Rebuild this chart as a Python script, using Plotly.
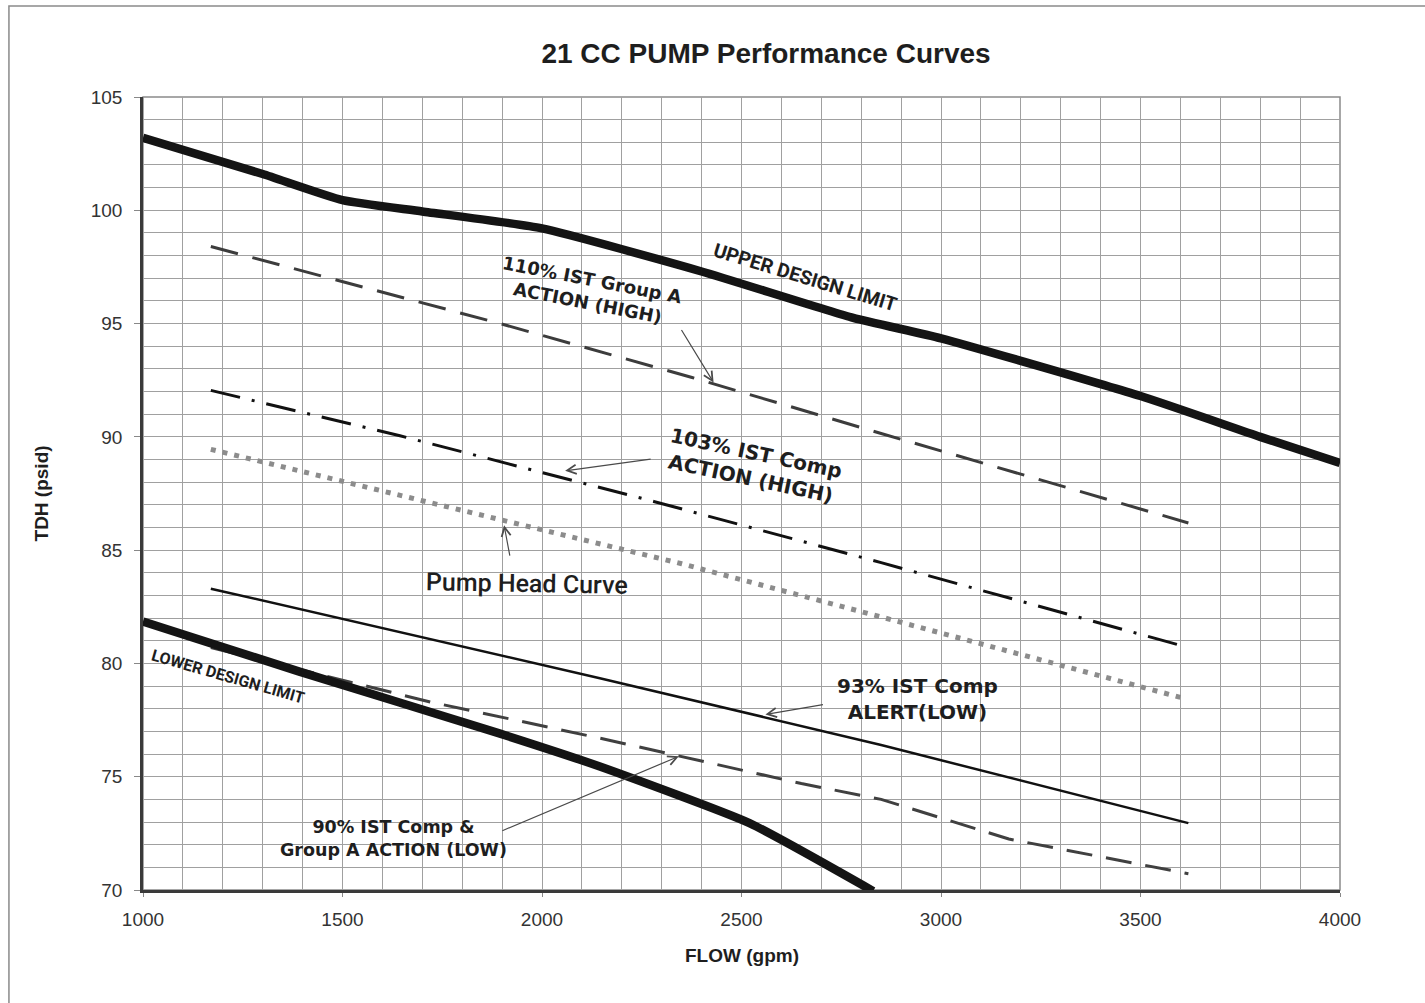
import plotly.graph_objects as go

# ---------------------------------------------------------------------------
# Curve data: flow (gpm) -> TDH (psid)
# ---------------------------------------------------------------------------

upper_flow = [1000, 1300, 1500, 1700, 2000, 2400, 2780, 3000, 3500, 3800, 4000]
upper_tdh = [103.2, 101.6, 100.45, 99.95, 99.2, 97.3, 95.25, 94.35, 91.8, 90.0, 88.85]

lower_flow = [1000, 1390, 1895, 2145, 2520, 2830]
lower_tdh = [81.85, 79.65, 76.9, 75.45, 72.95, 69.95]

high110_flow = [1170, 1895, 2376, 2850, 3620]
high110_tdh = [98.4, 95.0, 92.62, 90.15, 86.2]

high103_flow = [1170, 1644, 2280, 2850, 3620]
high103_tdh = [92.05, 90.05, 87.15, 84.45, 80.7]

pump_flow = [1170, 1610, 1915, 2350, 2850, 3300, 3600]
pump_tdh = [89.45, 87.55, 86.25, 84.4, 82.05, 79.93, 78.5]

alert93_flow = [1170, 2145, 2850, 3620]
alert93_tdh = [83.3, 79.35, 76.4, 72.95]

low90_flow = [1170, 1720, 2145, 2650, 2850, 3170, 3620]
low90_tdh = [80.7, 78.3, 76.7, 74.7, 74.0, 72.25, 70.72]

x_ticks = [1000, 1500, 2000, 2500, 3000, 3500, 4000]
y_ticks = [70, 75, 80, 85, 90, 95, 100, 105]

TITLE = "21 CC PUMP Performance Curves"

LABEL_FONT = "DejaVu Sans"
NARROW_FONT = "Roboto"
INK = "#1e1e1e"
ARROW = "#4a4a4a"


def line_trace(x, y, color, width, dash="solid", shape="linear"):
    return go.Scatter(
        x=x, y=y, mode="lines",
        line=dict(color=color, width=width, dash=dash, shape=shape, smoothing=0.5),
        hoverinfo="skip", showlegend=False,
    )


fig = go.Figure()
fig.add_trace(line_trace(high110_flow, high110_tdh, "#3c3c3c", 3, "28px,15px"))
fig.add_trace(line_trace(high103_flow, high103_tdh, "#111111", 3, "30px,12px,3px,12px"))
fig.add_trace(line_trace(pump_flow, pump_tdh, "#8c8c8c", 5, "5px,7px"))
fig.add_trace(line_trace(alert93_flow, alert93_tdh, "#111111", 2.5))
fig.add_trace(line_trace(low90_flow, low90_tdh, "#404040", 3, "26px,14px"))
fig.add_trace(line_trace(upper_flow, upper_tdh, "#141414", 8.5, shape="spline"))
fig.add_trace(line_trace(lower_flow, lower_tdh, "#141414", 8.5, shape="spline"))


def text_label(x, y, text, size, angle=0, family=LABEL_FONT, weight="bold"):
    fig.add_annotation(
        x=x, y=y, xref="x", yref="y", text=text, showarrow=False,
        textangle=angle, xanchor="center", yanchor="middle", align="center",
        font=dict(family=family, size=size, color=INK, weight=weight),
    )


def pointer(tip, tail):
    # tip is (flow, tdh); tail is a pixel offset from the tip
    fig.add_annotation(
        x=tip[0], y=tip[1], xref="x", yref="y", text="",
        showarrow=True, ax=tail[0], ay=tail[1],
        arrowhead=5, arrowsize=1.5, arrowwidth=1.2, arrowcolor=ARROW,
        standoff=0, startstandoff=0,
    )


text_label(2659, 97.05, "UPPER DESIGN LIMIT", 19.5, 17, NARROW_FONT)
text_label(2120, 96.45, "110% IST Group A<br>ACTION (HIGH)", 18, 11)
text_label(2531, 88.7, "103% IST Comp<br>ACTION (HIGH)", 20, 12)
text_label(1962, 83.55, "Pump Head Curve", 25, 1, NARROW_FONT, weight=500)
text_label(2940, 78.43, "93% IST Comp<br>ALERT(LOW)", 20, 0)
text_label(1627, 72.29, "90% IST Comp &<br>Group A ACTION (LOW)", 17.5, 0)
text_label(1213, 79.44, "LOWER DESIGN LIMIT", 16, 16, NARROW_FONT)

pointer((2430, 92.4), (-33, -54))
pointer((2058, 88.5), (87, -12))
pointer((1905, 86.1), (6, 32))
pointer((2560, 77.75), (59, -10))
pointer((2343, 75.9), (-178, 75))

# axis titles
fig.add_annotation(
    x=-0.0844, y=0.5, xref="paper", yref="paper", text="TDH (psid)",
    textangle=-90, showarrow=False, xanchor="center", yanchor="middle",
    font=dict(family="Liberation Sans", size=19, color=INK, weight="bold"),
)
fig.add_annotation(
    x=0.5, y=-0.082, xref="paper", yref="paper", text="FLOW (gpm)",
    showarrow=False, xanchor="center", yanchor="middle",
    font=dict(family="Liberation Sans", size=19, color=INK, weight="bold"),
)

# plot frame (top/right) and page border
fig.add_shape(type="rect", xref="paper", yref="paper", x0=0, x1=1, y0=0, y1=1,
              line=dict(color="#8a8a8a", width=1.5), layer="below")
fig.add_shape(type="rect", xref="paper", yref="paper", x0=-0.112, x1=1.3,
              y0=-0.3, y1=1.1148, line=dict(color="#8a8a8a", width=1.5))

grid = dict(showgrid=True, gridcolor="#a0a0a0", gridwidth=1)
tick_font = dict(family="Liberation Sans", size=19, color="#333333")

fig.update_xaxes(
    range=[1000, 4000], tickvals=x_ticks, ticktext=[str(v) for v in x_ticks],
    minor=dict(dtick=100, showgrid=True, gridcolor="#a0a0a0", gridwidth=1),
    ticks="outside", ticklen=4, tickcolor="#888888", tickfont=tick_font,
    ticklabelstandoff=6,
    showline=True, linecolor="#3a3a3a", linewidth=2.5, zeroline=False, **grid,
)
fig.update_yaxes(
    range=[70, 105], tickvals=y_ticks, ticktext=[str(v) for v in y_ticks],
    minor=dict(dtick=1, showgrid=True, gridcolor="#a0a0a0", gridwidth=1),
    ticks="outside", ticklen=6, tickcolor="#888888", tickfont=tick_font,
    ticklabelstandoff=8,
    showline=True, linecolor="#3a3a3a", linewidth=2.5, zeroline=False, **grid,
)

fig.update_layout(
    width=1425, height=1003,
    margin=dict(l=143, r=85, t=97, b=113),
    paper_bgcolor="white", plot_bgcolor="white",
    title=dict(
        text=TITLE, x=0.5205, xref="paper", xanchor="center",
        y=1 - 53 / 1003, yref="container", yanchor="middle",
        font=dict(family="Liberation Sans", size=28, color=INK, weight="bold"),
    ),
    showlegend=False,
)

# drop the browser's default 8px body margin so the figure sits at the page corner
fig.write_html("out.html", config={"displayModeBar": False},
               post_script="document.body.style.margin = '0';")
